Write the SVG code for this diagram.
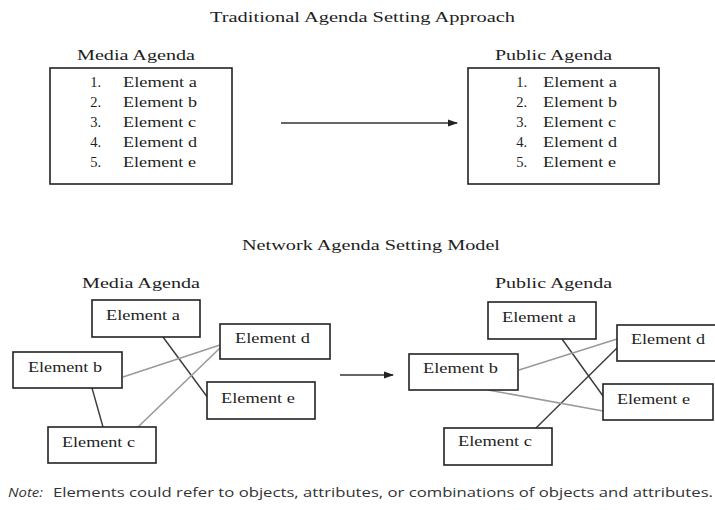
<svg xmlns="http://www.w3.org/2000/svg" width="715" height="510" viewBox="0 0 715 510">
<style>
.t{font-family:"Liberation Serif","Times New Roman",serif;fill:#1e1e1e;}
.h{font-size:15px;}
.e{font-size:14.5px;}
.box{fill:#fff;stroke:#222;stroke-width:1.6;}
.dk{stroke:#3a3a3a;stroke-width:1.4;fill:none;}
.lt{stroke:#9a9a9a;stroke-width:1.6;fill:none;}
.ar{stroke:#333;stroke-width:1.4;fill:none;}
.note{font-family:"Open Sans","Liberation Sans",sans-serif;font-size:12.5px;fill:#333;}
</style>
<defs>
<marker id="ah" markerWidth="10" markerHeight="8" refX="9" refY="4" orient="auto" markerUnits="userSpaceOnUse">
<path d="M0,0.5 L10,4 L0,7.5 Z" fill="#222"/>
</marker>
</defs>
<rect width="715" height="510" fill="#fff"/>

<text class="t h" x="210" y="22" textLength="305" lengthAdjust="spacingAndGlyphs">Traditional Agenda Setting Approach</text>

<g id="trad-media">
<text class="t h" x="77" y="60" textLength="118" lengthAdjust="spacingAndGlyphs">Media Agenda</text>
<rect class="box" x="50" y="68" width="182" height="116"/>
<g class="t e" text-anchor="end">
<text x="101" y="87">1.</text><text x="101" y="107">2.</text><text x="101" y="127">3.</text><text x="101" y="147">4.</text><text x="101" y="167">5.</text>
</g>
<g class="t e">
<text x="123" y="87" textLength="74" lengthAdjust="spacingAndGlyphs">Element a</text>
<text x="123" y="107" textLength="74" lengthAdjust="spacingAndGlyphs">Element b</text>
<text x="123" y="127" textLength="73" lengthAdjust="spacingAndGlyphs">Element c</text>
<text x="123" y="147" textLength="74" lengthAdjust="spacingAndGlyphs">Element d</text>
<text x="123" y="167" textLength="73" lengthAdjust="spacingAndGlyphs">Element e</text>
</g>
</g>

<g id="trad-public">
<text class="t h" x="495" y="60" textLength="117" lengthAdjust="spacingAndGlyphs">Public Agenda</text>
<rect class="box" x="468" y="68" width="191" height="116"/>
<g class="t e" text-anchor="end">
<text x="527" y="87">1.</text><text x="527" y="107">2.</text><text x="527" y="127">3.</text><text x="527" y="147">4.</text><text x="527" y="167">5.</text>
</g>
<g class="t e">
<text x="543" y="87" textLength="74" lengthAdjust="spacingAndGlyphs">Element a</text>
<text x="543" y="107" textLength="74" lengthAdjust="spacingAndGlyphs">Element b</text>
<text x="543" y="127" textLength="73" lengthAdjust="spacingAndGlyphs">Element c</text>
<text x="543" y="147" textLength="74" lengthAdjust="spacingAndGlyphs">Element d</text>
<text x="543" y="167" textLength="73" lengthAdjust="spacingAndGlyphs">Element e</text>
</g>
</g>

<text class="t h" x="242" y="250" textLength="258" lengthAdjust="spacingAndGlyphs">Network Agenda Setting Model</text>
<text class="t h" x="82" y="288" textLength="118" lengthAdjust="spacingAndGlyphs">Media Agenda</text>
<text class="t h" x="495" y="288" textLength="117" lengthAdjust="spacingAndGlyphs">Public Agenda</text>

<g id="connectors">
<line class="ar" x1="281" y1="123" x2="457" y2="123" marker-end="url(#ah)"/>
<line class="ar" x1="340" y1="375" x2="393" y2="375" marker-end="url(#ah)"/>
<!-- left network -->
<line class="dk" x1="163" y1="337" x2="208" y2="398"/>
<line class="lt" x1="123" y1="377" x2="220" y2="345"/>
<line class="lt" x1="138" y1="427" x2="220" y2="348"/>
<line class="dk" x1="92" y1="388" x2="103" y2="427"/>
<!-- right network -->
<line class="dk" x1="562" y1="339" x2="603" y2="396"/>
<line class="lt" x1="519" y1="370" x2="617" y2="339"/>
<line class="dk" x1="535" y1="429" x2="617" y2="348"/>
<line class="lt" x1="488" y1="390" x2="603" y2="411"/>
</g>

<g id="m-a"><rect class="box" x="92" y="300" width="108" height="37"/><text class="t e" x="106" y="320" textLength="74" lengthAdjust="spacingAndGlyphs">Element a</text></g>
<g id="m-d"><rect class="box" x="220" y="324" width="110" height="35"/><text class="t e" x="235" y="343" textLength="75" lengthAdjust="spacingAndGlyphs">Element d</text></g>
<g id="m-b"><rect class="box" x="13" y="352" width="109" height="36"/><text class="t e" x="28" y="372" textLength="74" lengthAdjust="spacingAndGlyphs">Element b</text></g>
<g id="m-e"><rect class="box" x="207" y="382" width="108" height="37"/><text class="t e" x="221" y="403" textLength="74" lengthAdjust="spacingAndGlyphs">Element e</text></g>
<g id="m-c"><rect class="box" x="48" y="427" width="108" height="36"/><text class="t e" x="62" y="447" textLength="73" lengthAdjust="spacingAndGlyphs">Element c</text></g>

<g id="p-a"><rect class="box" x="488" y="302" width="108" height="37"/><text class="t e" x="502" y="322" textLength="74" lengthAdjust="spacingAndGlyphs">Element a</text></g>
<g id="p-d"><rect class="box" x="617" y="325" width="105" height="36"/><text class="t e" x="631" y="344" textLength="74" lengthAdjust="spacingAndGlyphs">Element d</text></g>
<g id="p-b"><rect class="box" x="409" y="354" width="109" height="36"/><text class="t e" x="423" y="373" textLength="75" lengthAdjust="spacingAndGlyphs">Element b</text></g>
<g id="p-e"><rect class="box" x="603" y="384" width="110" height="36"/><text class="t e" x="617" y="404" textLength="73" lengthAdjust="spacingAndGlyphs">Element e</text></g>
<g id="p-c"><rect class="box" x="444" y="428" width="108" height="37"/><text class="t e" x="458" y="446" textLength="74" lengthAdjust="spacingAndGlyphs">Element c</text></g>

<text class="note" x="8" y="497" font-style="italic" textLength="35" lengthAdjust="spacingAndGlyphs">Note:</text>
<text class="note" x="53" y="497" textLength="660" lengthAdjust="spacingAndGlyphs">Elements could refer to objects, attributes, or combinations of objects and attributes.</text>
</svg>
